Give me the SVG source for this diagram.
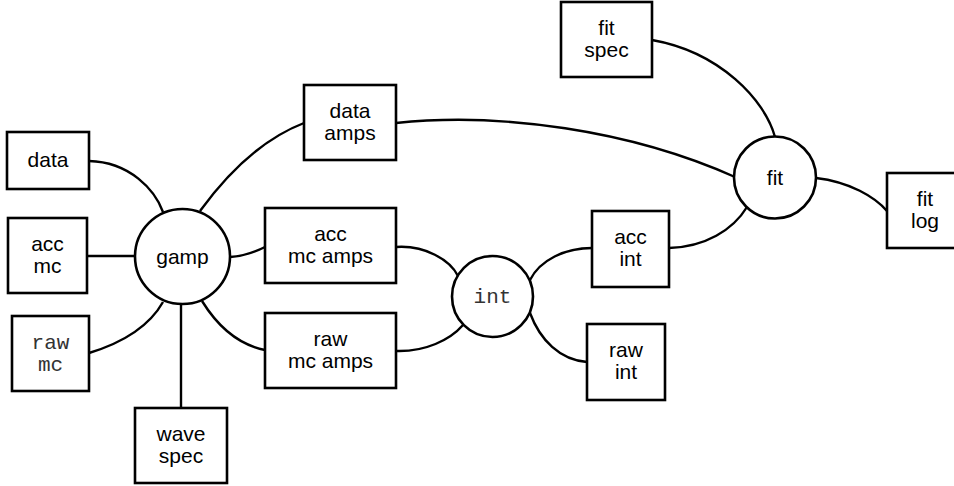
<svg xmlns="http://www.w3.org/2000/svg" width="954" height="486" viewBox="0 0 954 486">
<style>
.b{fill:#fff;stroke:#000;stroke-width:2.6}
.e{fill:none;stroke:#000;stroke-width:2.4}
.t{font-family:"Liberation Sans",Arial,sans-serif;font-size:21px;text-anchor:middle;fill:#000}
.m{font-family:"Liberation Mono","Courier New",monospace;font-size:21px;text-anchor:middle;fill:#333}
</style>
<rect width="954" height="486" fill="#fff"/>
<g id="edges">
<path class="e" d="M89,161 C130,162 155,190 163,212"/>
<path class="e" d="M87,256 L135,256"/>
<path class="e" d="M89,353 C125,342 150,325 163,302"/>
<path class="e" d="M181,408 L181,304"/>
<path class="e" d="M202,301 C220,330 240,345 265,350"/>
<path class="e" d="M230,257 C245,256 255,252 265,247"/>
<path class="e" d="M200,211 C230,170 265,138 304,123"/>
<path class="e" d="M396,123 C500,112 630,130 735,177"/>
<path class="e" d="M652,40 C720,52 765,100 775,137"/>
<path class="e" d="M816,178 C850,182 875,197 887,211"/>
<path class="e" d="M669,248 C705,247 733,230 747,207"/>
<path class="e" d="M396,247 C425,245 450,260 458,276"/>
<path class="e" d="M396,351 C425,352 450,340 463,325"/>
<path class="e" d="M530,280 C540,260 565,248 592,248"/>
<path class="e" d="M530,313 C540,340 560,360 587,362"/>
</g>
<g id="data"><rect class="b" x="7" y="132" width="82" height="57"/><text class="t" x="48" y="167">data</text></g>
<g id="accmc"><rect class="b" x="8" y="218" width="79" height="75"/><text class="t" x="47.5" y="251">acc</text><text class="t" x="47.5" y="273">mc</text></g>
<g id="rawmc"><rect class="b" x="12" y="316" width="77" height="75"/><text class="m" x="50.5" y="349">raw</text><text class="m" x="50.5" y="371">mc</text></g>
<g id="wavespec"><rect class="b" x="135" y="408" width="92" height="75"/><text class="t" x="181" y="441">wave</text><text class="t" x="181" y="463">spec</text></g>
<g id="gamp"><circle class="b" cx="182.5" cy="256.5" r="47.5"/><text class="t" x="182.5" y="263.5">gamp</text></g>
<g id="dataamps"><rect class="b" x="304" y="85" width="92" height="75"/><text class="t" x="350" y="118">data</text><text class="t" x="350" y="140">amps</text></g>
<g id="accmcamps"><rect class="b" x="265" y="208" width="131" height="75"/><text class="t" x="330.5" y="241">acc</text><text class="t" x="330.5" y="263">mc amps</text></g>
<g id="rawmcamps"><rect class="b" x="265" y="313" width="131" height="75"/><text class="t" x="330.5" y="346">raw</text><text class="t" x="330.5" y="368">mc amps</text></g>
<g id="int"><circle class="b" cx="492.5" cy="296.5" r="40.5"/><text class="m" x="492.5" y="303">int</text></g>
<g id="accint"><rect class="b" x="592" y="211" width="77" height="76"/><text class="t" x="630.5" y="244">acc</text><text class="t" x="630.5" y="266">int</text></g>
<g id="rawint"><rect class="b" x="587" y="324" width="78" height="76"/><text class="t" x="626" y="357">raw</text><text class="t" x="626" y="379">int</text></g>
<g id="fitspec"><rect class="b" x="561" y="2" width="91" height="75"/><text class="t" x="606.5" y="35">fit</text><text class="t" x="606.5" y="57">spec</text></g>
<g id="fit"><circle class="b" cx="775" cy="177.5" r="41"/><text class="t" x="775" y="184.5">fit</text></g>
<g id="fitlog"><rect class="b" x="887" y="173" width="76" height="75"/><text class="t" x="925" y="206">fit</text><text class="t" x="925" y="228">log</text></g>
</svg>
